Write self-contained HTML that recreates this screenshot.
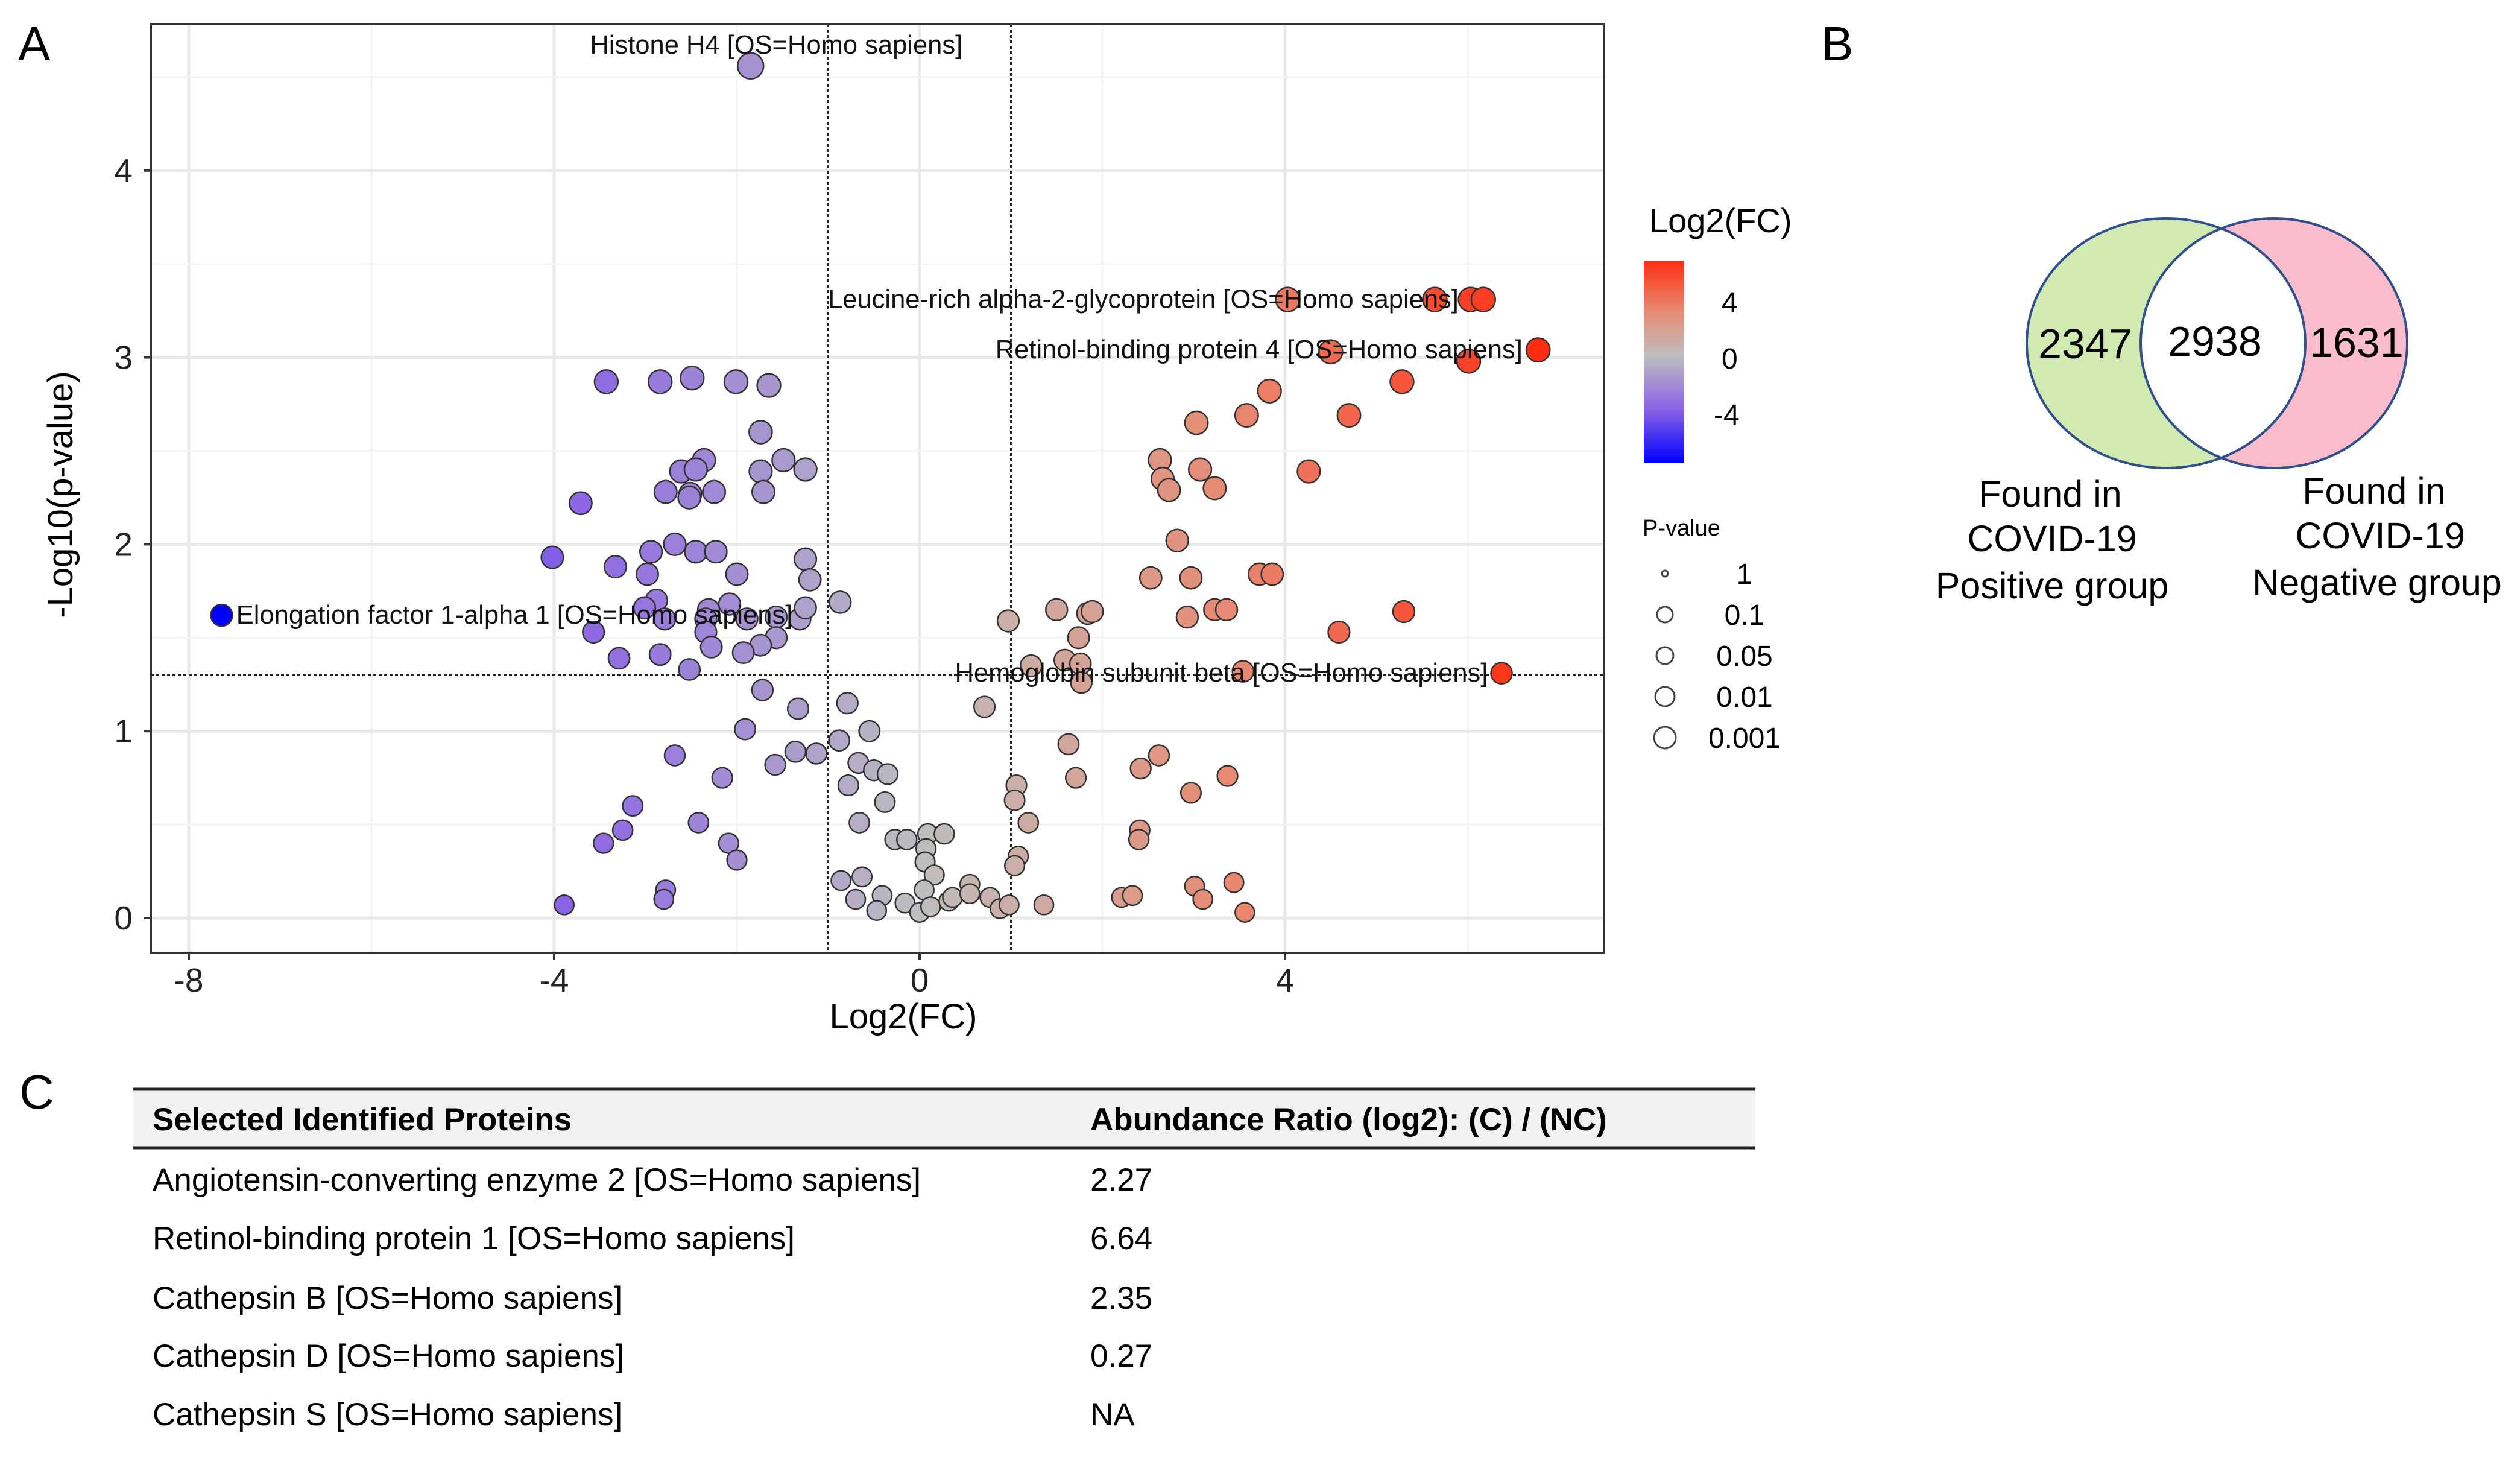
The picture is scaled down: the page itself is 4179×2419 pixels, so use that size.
<!DOCTYPE html>
<html><head><meta charset="utf-8"><style>
html,body{margin:0;padding:0;background:#fff;}
svg{display:block;font-family:"Liberation Sans",Arial,sans-serif;}
</style></head><body>
<svg id="fig" width="4179" height="2419" viewBox="0 0 4179 2419" xmlns="http://www.w3.org/2000/svg">
<text x="30" y="100" font-size="80">A</text>
<text x="3020" y="100" font-size="80">B</text>
<text x="32" y="1838" font-size="80">C</text>
<g id="plot"></g>
<g id="legend">
  <text x="2735" y="385" font-size="56">Log2(FC)</text>
  <defs><linearGradient id="cg" x1="0" y1="1" x2="0" y2="0">
    <stop offset="0" stop-color="#0000ff"/><stop offset="0.27" stop-color="#8c64e6"/><stop offset="0.53" stop-color="#bebebe"/><stop offset="0.75" stop-color="#e88a72"/><stop offset="1" stop-color="#ff2d12"/></linearGradient></defs>
  <rect x="2726" y="432" width="67" height="336" fill="url(#cg)"/>
  <text x="2855" y="518" font-size="48">4</text>
  <text x="2855" y="611" font-size="48">0</text>
  <text x="2842" y="704" font-size="48">-4</text>
  <text x="2724" y="888" font-size="38">P-value</text>
  <g id="sizeleg"></g>
</g>
<g>
  <ellipse cx="3592" cy="569" rx="231" ry="207" fill="#d0eab2"/>
  <ellipse cx="3771" cy="569" rx="221" ry="207" fill="#f9bccb"/>
  <clipPath id="lc"><ellipse cx="3592" cy="569" rx="231" ry="207"/></clipPath>
  <ellipse cx="3771" cy="569" rx="221" ry="207" fill="#fff" clip-path="url(#lc)"/>
  <ellipse cx="3592" cy="569" rx="231" ry="207" fill="none" stroke="#2f4f8f" stroke-width="4"/>
  <ellipse cx="3771" cy="569" rx="221" ry="207" fill="none" stroke="#2f4f8f" stroke-width="4"/>
  <text x="3458" y="594" font-size="70" text-anchor="middle">2347</text>
  <text x="3673" y="590" font-size="70" text-anchor="middle">2938</text>
  <text x="3908" y="592" font-size="70" text-anchor="middle">1631</text>
  <g font-size="61" text-anchor="middle">
    <text x="3400" y="840">Found in</text><text x="3403" y="914">COVID-19</text><text x="3403" y="992">Positive group</text></g>
  <g font-size="61" text-anchor="middle">
    <text x="3937" y="835">Found in</text><text x="3947" y="909">COVID-19</text><text x="3942" y="987">Negative group</text></g>
</g>
<g font-size="53">
  <rect x="221" y="1806" width="2690" height="97" fill="#f2f2f2"/>
  <line x1="221" y1="1806" x2="2911" y2="1806" stroke="#222" stroke-width="5"/>
  <line x1="221" y1="1903" x2="2911" y2="1903" stroke="#222" stroke-width="5"/>
  <text x="253" y="1874" font-weight="bold">Selected Identified Proteins</text>
  <text x="1808" y="1874" font-weight="bold">Abundance Ratio (log2): (C) / (NC)</text>
  <text x="253" y="1974">Angiotensin-converting enzyme 2 [OS=Homo sapiens]</text><text x="1808" y="1974">2.27</text>
  <text x="253" y="2071">Retinol-binding protein 1 [OS=Homo sapiens]</text><text x="1808" y="2071">6.64</text>
  <text x="253" y="2170">Cathepsin B [OS=Homo sapiens]</text><text x="1808" y="2170">2.35</text>
  <text x="253" y="2266">Cathepsin D [OS=Homo sapiens]</text><text x="1808" y="2266">0.27</text>
  <text x="253" y="2363">Cathepsin S [OS=Homo sapiens]</text><text x="1808" y="2363">NA</text>
</g>
</svg>
<script>
const xTicks=[-8,-4,0,4];
const yTicks=[0,1,2,3,4];
const xs=[-1.85,-7.64,-3.43,-2.84,-2.49,-2.01,-1.65,-1.74,-2.36,-2.61,-2.45,-1.49,-1.74,-1.25,-3.71,-2.78,-2.51,-2.52,-2.25,-1.71,-4.02,-2.68,-2.94,-2.45,-2.23,-1.25,-3.33,-2.98,-2.00,-1.20,-0.87,-2.88,-3.01,-2.08,-2.31,-2.34,-2.79,-1.89,-1.57,-1.31,-1.25,-3.57,-2.34,-1.57,-2.28,-1.74,-1.93,-3.29,-2.84,-2.52,-1.72,-1.33,-1.91,-2.68,-1.36,-1.13,-1.58,-2.16,-3.14,-3.25,-3.46,-2.42,-2.09,-2.00,-2.78,-2.80,-3.89,
-0.79,-0.88,-0.55,-0.67,-0.50,-0.35,-0.78,-0.38,-0.66,-0.27,-0.14,0.09,0.27,0.07,0.06,0.16,-0.86,-0.63,-0.70,-0.41,-0.47,-0.16,0.05,0.00,0.12,0.32,0.36,0.55,0.55,0.77,0.88,0.98,1.36,0.71,0.97,
1.06,1.04,1.19,1.08,1.04,1.63,1.71,1.22,1.59,1.76,1.77,1.74,1.50,1.84,1.89,2.42,2.62,2.41,2.40,2.21,2.33,2.97,3.37,3.01,3.10,3.44,3.56,3.54,2.53,2.97,2.93,3.23,3.36,3.72,3.86,2.82,2.63,2.66,2.73,3.07,3.23,3.03,3.58,3.83,4.26,4.70,4.59,5.30,5.28,4.50,6.01,6.77,4.03,5.64,6.03,6.17,6.37];
const ys=[4.56,1.62,2.87,2.87,2.89,2.87,2.85,2.60,2.45,2.39,2.40,2.45,2.39,2.40,2.22,2.28,2.27,2.25,2.28,2.28,1.93,2.00,1.96,1.96,1.96,1.92,1.88,1.84,1.84,1.81,1.69,1.70,1.66,1.68,1.65,1.60,1.60,1.60,1.61,1.60,1.66,1.53,1.53,1.50,1.45,1.46,1.42,1.39,1.41,1.33,1.22,1.12,1.01,0.87,0.89,0.88,0.82,0.75,0.60,0.47,0.40,0.51,0.40,0.31,0.15,0.10,0.07,
1.15,0.95,1.00,0.83,0.79,0.77,0.71,0.62,0.51,0.42,0.42,0.45,0.45,0.37,0.30,0.23,0.20,0.22,0.10,0.12,0.04,0.08,0.15,0.03,0.06,0.09,0.11,0.18,0.13,0.11,0.05,0.07,0.07,1.13,1.59,
0.71,0.63,0.51,0.33,0.28,0.93,0.75,1.35,1.38,1.36,1.26,1.50,1.65,1.63,1.64,0.80,0.87,0.47,0.42,0.11,0.12,0.67,0.76,0.17,0.10,0.19,0.03,1.32,1.82,1.82,1.61,1.65,1.65,1.84,1.84,2.02,2.45,2.35,2.29,2.40,2.30,2.65,2.69,2.82,2.39,2.69,1.53,1.64,2.87,3.03,2.98,3.04,3.31,3.31,3.31,3.31,1.31];
const labelTexts=["Histone H4 [OS=Homo sapiens]","Leucine-rich alpha-2-glycoprotein [OS=Homo sapiens]","Retinol-binding protein 4 [OS=Homo sapiens]","Elongation factor 1-alpha 1 [OS=Homo sapiens]","Hemoglobin subunit beta [OS=Homo sapiens]"];
const labelX=[0.47,5.9,6.6,-7.48,6.22];
const labelY=[4.67,3.31,3.04,1.62,1.31];
const pLevels=["1","0.1","0.05","0.01","0.001"];

const NS="http://www.w3.org/2000/svg";
const L=250,R=2660,T=40,B=1580;
const sx=v=>1525+v*151.5;
const sy=v=>1522-v*309.8;
function mk(tag,attrs,parent){const e=document.createElementNS(NS,tag);for(const k in attrs)e.setAttribute(k,attrs[k]);parent.appendChild(e);return e;}
function lerp(a,b,t){return a.map((c,i)=>c+(b[i]-c)*t);}
function col(v){
  const grey=[190,190,190],pur=[140,100,230],blue=[0,0,255],sal=[232,138,114],red=[255,45,18];let c;
  if(v<0){const t=Math.min(1,-v/7.64);c=t<0.5?lerp(grey,pur,t/0.5):lerp(pur,blue,(t-0.5)/0.5);}
  else{const t=Math.min(1,v/6.77);c=t<0.5?lerp(grey,sal,t/0.5):lerp(sal,red,(t-0.5)/0.5);}
  return "rgb("+c.map(Math.round).join(",")+")";
}
const g=document.getElementById('plot');
mk('rect',{x:L,y:T,width:R-L,height:B-T,fill:'#fff'},g);
for(let v=-8;v<=6;v+=2){mk('line',{x1:sx(v),x2:sx(v),y1:T,y2:B,stroke:v%4===0?'#e8e8e8':'#f3f3f3','stroke-width':v%4===0?5:3},g);}
for(let v=0;v<=4.5;v+=0.5){mk('line',{x1:L,x2:R,y1:sy(v),y2:sy(v),stroke:v%1===0?'#e8e8e8':'#f3f3f3','stroke-width':v%1===0?5:3},g);}
[-1,1].forEach(v=>{const l=mk('line',{x1:sx(v),x2:sx(v),y1:T,y2:B,stroke:'#222','stroke-width':3,'stroke-dasharray':'5,4'},g);

});
const hl=mk('line',{x1:L,x2:R,y1:sy(1.3),y2:sy(1.3),stroke:'#222','stroke-width':3,'stroke-dasharray':'5,4'},g);


for(let i=0;i<xs.length;i++){
  const c=mk('circle',{cx:sx(xs[i]),cy:sy(ys[i]),r:16+1.2*ys[i],fill:col(xs[i]),stroke:'#333','stroke-width':2.5},g);
  
  
}
for(let i=0;i<labelTexts.length;i++){
  const t=mk('text',{x:sx(labelX[i]),y:sy(labelY[i])+14,'font-size':43.5,'text-anchor':i===3?'start':'end',fill:'#111'},g);
  t.textContent=labelTexts[i];
  
  
}
mk('rect',{x:L,y:T,width:R-L,height:B-T,fill:'none',stroke:'#333','stroke-width':4},g);
xTicks.forEach(v=>{mk('line',{x1:sx(v),x2:sx(v),y1:B,y2:B+12,stroke:'#333','stroke-width':4},g);
  const t=mk('text',{x:sx(v),y:B+64,'font-size':55,'text-anchor':'middle',fill:'#222'},g);t.textContent=v;
  
  });
yTicks.forEach(v=>{mk('line',{x1:L-12,x2:L,y1:sy(v),y2:sy(v),stroke:'#333','stroke-width':4},g);
  const t=mk('text',{x:L-30,y:sy(v)+19,'font-size':55,'text-anchor':'end',fill:'#222'},g);t.textContent=v;
  
  });
const xt=mk('text',{x:1498,y:1705,'font-size':58,'text-anchor':'middle'},g);xt.textContent='Log2(FC)';


const yt=mk('text',{x:0,y:0,'font-size':58,'text-anchor':'middle',transform:'translate(120,820) rotate(-90)'},g);yt.textContent='-Log10(p-value)';


const sl=document.getElementById('sizeleg');
const rr=[5,13,14,16,18];
pLevels.forEach((p,i)=>{const y=951+i*68;
  const c=mk('circle',{cx:2761,cy:y,r:rr[i],fill:'none',stroke:'#444','stroke-width':3},sl);
  
  
  const t=mk('text',{x:2893,y:y+17,'font-size':48,'text-anchor':'middle'},sl);t.textContent=p;
  
  });
</script>
</body></html>
